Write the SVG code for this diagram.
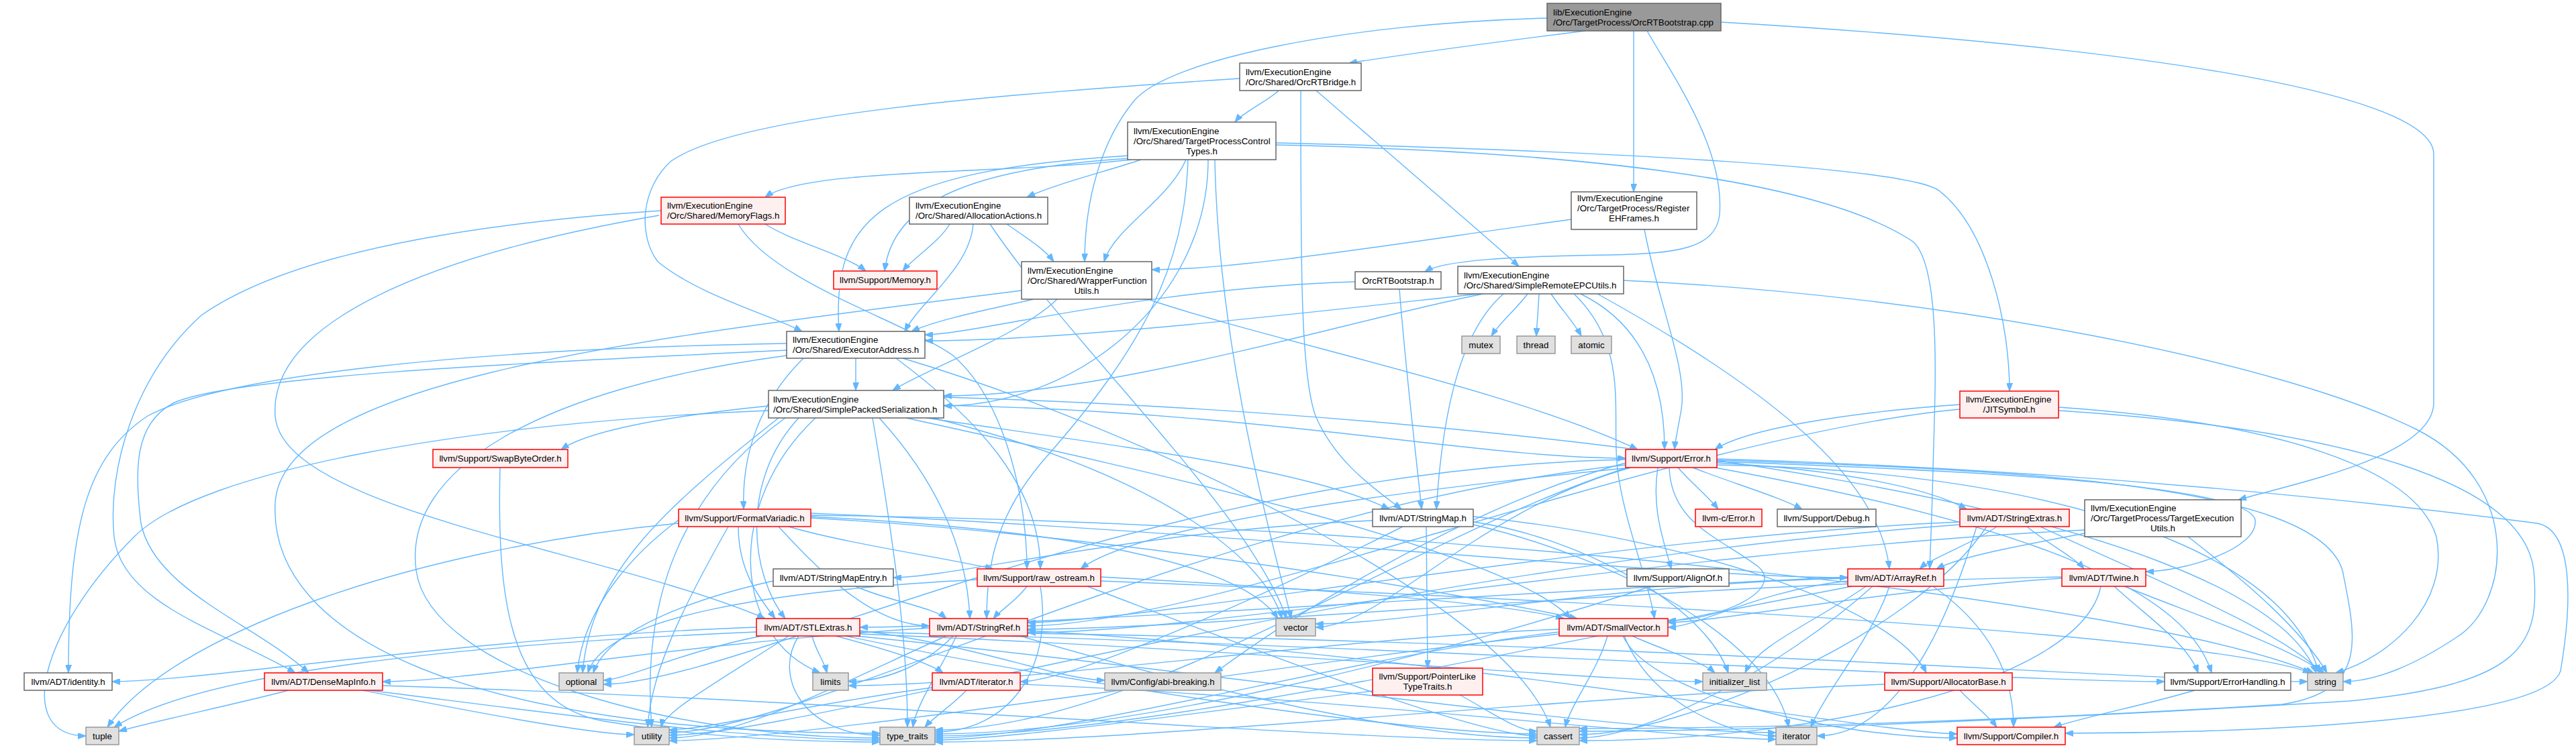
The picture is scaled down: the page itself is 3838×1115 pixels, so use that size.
<svg xmlns="http://www.w3.org/2000/svg" width="3838" height="1115" viewBox="0 0 3838 1115">
<style>
.bg{fill:#FFFFFF}
.edges path{fill:none;stroke:#63B8FF;stroke-width:1.4;marker-end:url(#arr)}
.node rect{stroke-width:1.5}
.red rect{fill:#FFF0F0;stroke:#FF0000}
.wht rect{fill:#FFFFFF;stroke:#666666}
.sys rect{fill:#E0E0E0;stroke:#999999}
.root rect{fill:#999999;stroke:#666666}
text{font-family:"Liberation Sans",Arial,Helvetica,sans-serif;font-size:13.33px;fill:#000000}
.c{text-anchor:middle}
</style>
<defs>
<marker id="arr" viewBox="0 0 12 9" refX="12" refY="4.5" markerWidth="12" markerHeight="9" markerUnits="userSpaceOnUse" orient="auto">
<path d="M0,0L12,4.5L0,9z" fill="#63B8FF" stroke="#63B8FF" stroke-width="1"/>
</marker>
</defs>
<rect class="bg" x="0" y="0" width="3838" height="1115"/>
<g id="edges" class="edges">
<path d="M2362,46C2250,60 2100,80 2010,94"/>
<path d="M2305,27C2000,35 1740,90 1690,150C1640,210 1616,300 1616,390"/>
<path d="M2434,46C2434,150 2434,200 2434,286"/>
<path d="M2454,46C2490,110 2570,220 2562,320C2556,370 2500,378 2400,380C2250,382 2150,388 2123,405"/>
<path d="M2564,33C3200,70 3626,140 3626,230L3626,600C3626,680 3420,720 3335,745"/>
<path d="M1847,117C1500,140 1100,170 1000,240C955,280 950,350 980,390C1040,440 1150,470 1195,494"/>
<path d="M1905,135C1890,150 1852,167 1840,182"/>
<path d="M1938,135C1938,400 1938,560 1960,620C1990,690 2050,730 2088,759"/>
<path d="M1961,135C2030,195 2200,340 2263,397"/>
<path d="M1700,238C1650,255 1570,275 1530,294"/>
<path d="M1685,238C1500,260 1200,250 1140,294"/>
<path d="M1685,236C1450,250 1330,300 1318,404"/>
<path d="M1767,238C1740,300 1660,340 1645,390"/>
<path d="M1682,232C1300,255 1240,330 1250,494"/>
<path d="M1800,238C1800,450 1600,605 1406,605"/>
<path d="M1901,213C2400,225 2850,250 2890,285C2960,340 2994,480 2994,583"/>
<path d="M1901,216C2300,225 2700,260 2850,360C2895,400 2882,600 2880,700C2878,780 2876,820 2875,848"/>
<path d="M1770,238C1765,400 1700,520 1560,680C1480,770 1470,850 1470,922"/>
<path d="M1810,238C1815,500 1880,750 1924,922"/>
<path d="M1140,334C1180,360 1260,380 1290,404"/>
<path d="M985,314C600,340 400,400 300,470C200,560 160,700 170,800C180,900 330,940 440,1003"/>
<path d="M982,321C640,380 400,480 410,620C420,760 900,820 1140,922"/>
<path d="M1100,334C1150,420 1350,480 1420,530C1500,600 1530,750 1530,848"/>
<path d="M1450,334C1445,400 1370,450 1348,494"/>
<path d="M1500,334C1530,355 1555,370 1570,390"/>
<path d="M1415,334C1400,360 1360,385 1345,404"/>
<path d="M1475,334C1600,520 1860,760 1917,922"/>
<path d="M2341,327C2100,360 1850,402 1716,402"/>
<path d="M2450,342C2470,450 2515,550 2505,610C2500,640 2496,655 2495,670"/>
<path d="M2019,420C1700,430 1450,499 1378,499"/>
<path d="M2085,431C2095,560 2110,680 2118,759"/>
<path d="M1540,446C1480,460 1400,475 1358,494"/>
<path d="M1575,446C1520,500 1380,550 1330,582"/>
<path d="M1710,446C1900,510 2250,580 2440,670"/>
<path d="M1522,433C1000,500 420,560 410,750C400,950 700,1093 1311,1093"/>
<path d="M2204,438C2000,460 1600,508 1378,508"/>
<path d="M2210,438C2000,480 1650,590 1406,590"/>
<path d="M2240,438C2180,490 2150,600 2140,759"/>
<path d="M2276,438C2260,460 2235,480 2222,501"/>
<path d="M2293,438C2292,460 2290,480 2289,501"/>
<path d="M2311,438C2325,460 2345,480 2356,501"/>
<path d="M2355,438C2440,480 2480,560 2480,670"/>
<path d="M2345,438C2430,520 2400,620 2410,700C2420,780 2455,860 2465,922"/>
<path d="M2380,438C2600,560 2800,700 2815,848"/>
<path d="M2419,418C2900,440 3400,540 3600,640C3760,720 3740,900 3660,950C3600,990 3540,1016 3491,1016"/>
<path d="M1275,534C1275,550 1275,565 1275,582"/>
<path d="M1197,534C1130,600 1105,680 1108,759"/>
<path d="M1335,534C1450,620 1550,720 1550,848"/>
<path d="M1172,522C800,540 350,560 260,600C200,630 200,700 210,780C230,880 380,930 460,1003"/>
<path d="M1172,512C700,520 330,560 220,620C130,680 102,780 102,1003"/>
<path d="M1345,534C1700,640 2250,900 2310,1084"/>
<path d="M1172,530C800,580 600,700 620,850C640,1000 1000,1100 1311,1100"/>
<path d="M1406,604C1900,615 2200,683 2422,683"/>
<path d="M1145,605C1000,620 880,640 836,670"/>
<path d="M1190,623C1100,720 1120,860 1170,922"/>
<path d="M1350,623C1700,700 2250,820 2340,922"/>
<path d="M1380,623C1700,670 1950,700 2070,759"/>
<path d="M1310,623C1380,700 1440,800 1445,922"/>
<path d="M1215,623C1080,750 1090,950 1222,1003"/>
<path d="M1160,623C1000,750 880,850 868,1003"/>
<path d="M1406,592C2300,620 3350,750 3451,1003"/>
<path d="M1145,612C700,630 300,700 200,800C60,940 20,1097 128,1097"/>
<path d="M1300,623C1330,800 1352,950 1352,1084"/>
<path d="M1170,623C980,760 960,950 971,1084"/>
<path d="M1390,623C1700,700 1880,820 1910,922"/>
<path d="M2920,603C2750,615 2600,640 2555,670"/>
<path d="M2920,610C2500,650 1800,933 1531,933"/>
<path d="M3067,607C3400,630 3600,700 3630,800C3650,900 3560,980 3480,1003"/>
<path d="M3067,612C3500,640 3760,720 3775,850C3785,960 3760,1020 3500,1045C3000,1075 2600,1090 2353,1090"/>
<path d="M2500,697C2520,720 2545,740 2560,759"/>
<path d="M2522,697C2580,720 2650,740 2685,759"/>
<path d="M2558,690C2750,700 2880,730 2930,759"/>
<path d="M2558,688C2900,700 3350,720 3360,775C3365,820 3250,852 3197,852"/>
<path d="M2422,690C2200,750 1950,900 1810,1003"/>
<path d="M2470,697C2460,760 2480,810 2490,848"/>
<path d="M2558,684C3100,700 3550,750 3780,780C3835,790 3832,900 3815,1000C3790,1080 3300,1093 3077,1093"/>
<path d="M2555,697C2900,760 3250,850 3295,1003"/>
<path d="M2430,697C2100,730 1700,780 1610,848"/>
<path d="M2558,686C3000,700 3450,720 3490,850C3510,950 3530,1030 3400,1050C3000,1075 2600,1086 2353,1086"/>
<path d="M2422,685C1700,700 1100,1020 899,1020"/>
<path d="M2558,693C3000,700 3400,800 3455,1003"/>
<path d="M2425,697C2100,800 1700,1088 1393,1088"/>
<path d="M2422,693C1800,760 1200,1092 997,1092"/>
<path d="M2430,697C2200,760 2060,935 1960,935"/>
<path d="M2487,697C2490,780 2560,800 2620,845C2660,880 2560,925 2485,925"/>
<path d="M2045,776C1700,790 1420,861 1331,861"/>
<path d="M2090,785C1900,880 1600,1016 1520,1016"/>
<path d="M2195,770C2500,800 2820,900 2870,1003"/>
<path d="M2125,785C2126,880 2127,940 2127,996"/>
<path d="M2195,778C2350,800 2540,900 2575,1003"/>
<path d="M2195,782C2400,830 2640,950 2665,1084"/>
<path d="M2975,785C2940,810 2880,830 2860,848"/>
<path d="M2920,778C2400,800 1700,928 1531,928"/>
<path d="M3020,785C3050,810 3090,830 3105,848"/>
<path d="M2960,785C2850,950 2500,1095 2353,1095"/>
<path d="M2945,785C2880,1000 2800,1097 2707,1097"/>
<path d="M3040,785C3200,860 3400,940 3459,1003"/>
<path d="M2920,782C2000,850 1200,1096 997,1096"/>
<path d="M1275,874C1320,895 1390,905 1410,922"/>
<path d="M1152,866C1000,900 900,950 884,1003"/>
<path d="M1640,860C2000,880 2250,900 2330,922"/>
<path d="M1530,874C1515,895 1490,910 1480,922"/>
<path d="M1620,874C1900,980 2200,1097 2290,1097"/>
<path d="M1456,864C1150,880 900,920 876,1003"/>
<path d="M1640,866C2500,900 3300,950 3443,1003"/>
<path d="M1550,874C1570,1000 1500,1091 1393,1091"/>
<path d="M2460,874C2200,960 1700,1094 1393,1094"/>
<path d="M2753,866C2620,880 2530,935 2485,935"/>
<path d="M2753,860C2300,880 1500,935 1281,935"/>
<path d="M2880,874C2960,930 3000,1000 3000,1084"/>
<path d="M2790,874C2650,1000 2450,1100 2353,1100"/>
<path d="M2780,874C2700,930 2620,960 2600,1003"/>
<path d="M2815,874C2790,950 2720,1030 2698,1084"/>
<path d="M2760,874C2300,960 1700,1097 1393,1097"/>
<path d="M2753,862C2400,870 2100,930 1960,930"/>
<path d="M3072,862C2800,880 2550,928 2485,928"/>
<path d="M3072,860C2500,870 1800,938 1531,938"/>
<path d="M3150,874C3200,920 3260,960 3275,1003"/>
<path d="M3130,874C3100,1020 2700,1104 2353,1104"/>
<path d="M3165,874C3280,920 3400,960 3463,1003"/>
<path d="M1127,935C700,950 300,1016 167,1016"/>
<path d="M1245,948C1310,965 1380,985 1405,1003"/>
<path d="M1281,940C1450,960 1580,1014 1646,1014"/>
<path d="M1281,942C2000,960 3000,1016 3225,1016"/>
<path d="M1260,948C1600,1020 2100,1094 2290,1094"/>
<path d="M1281,945C1900,970 2400,1016 2537,1016"/>
<path d="M1275,948C1800,1000 2400,1092 2646,1092"/>
<path d="M1210,948C1215,970 1228,985 1232,1003"/>
<path d="M1135,948C1020,970 930,1014 899,1014"/>
<path d="M1127,942C700,960 300,1000 170,1084"/>
<path d="M1190,948C1150,1010 1200,1096 1311,1096"/>
<path d="M1175,948C1080,1010 990,1060 985,1084"/>
<path d="M1385,936C1000,960 700,1016 570,1016"/>
<path d="M1531,940C2200,980 2800,1094 2916,1094"/>
<path d="M1520,948C1800,1030 2100,1100 2290,1100"/>
<path d="M1420,948C1380,990 1320,1016 1264,1016"/>
<path d="M1531,944C2500,960 3200,1016 3438,1016"/>
<path d="M1425,948C1400,1000 1365,1050 1360,1084"/>
<path d="M1410,948C1250,1020 1100,1100 997,1100"/>
<path d="M2418,948C2460,1040 2750,1100 2916,1100"/>
<path d="M2395,948C2380,1000 2340,1050 2332,1084"/>
<path d="M2432,948C2480,970 2535,985 2555,1003"/>
<path d="M2420,948C2460,1050 2580,1097 2646,1097"/>
<path d="M2323,938C2000,950 1500,1022 1264,1022"/>
<path d="M2323,942C2000,980 1600,1100 1393,1100"/>
<path d="M2323,945C1900,990 1200,1104 997,1104"/>
<path d="M570,1022C1200,1040 2000,1104 2290,1104"/>
<path d="M430,1029C350,1050 230,1075 177,1090"/>
<path d="M550,1029C800,1060 1100,1103 1311,1103"/>
<path d="M540,1029C700,1060 880,1095 945,1095"/>
<path d="M1520,1020C2000,1040 2500,1102 2646,1102"/>
<path d="M1440,1029C1420,1050 1390,1070 1378,1084"/>
<path d="M1389,1025C1200,1050 1050,1088 997,1088"/>
<path d="M2175,1036C2220,1060 2260,1090 2290,1090"/>
<path d="M2045,1030C1800,1060 1500,1103 1393,1103"/>
<path d="M2920,1029C2940,1050 2965,1070 2975,1084"/>
<path d="M2808,1020C2300,1040 1700,1106 1393,1106"/>
<path d="M3270,1029C3200,1050 3100,1070 3060,1084"/>
<path d="M745,697C740,900 760,1050 900,1075C1050,1100 1200,1106 1311,1106"/>
<path d="M1208,765C1800,790 2500,861 2753,861"/>
<path d="M1100,785C1100,850 1130,890 1155,922"/>
<path d="M1208,772C1700,800 2200,890 2350,922"/>
<path d="M1160,785C1220,850 1300,933 1385,933"/>
<path d="M1175,785C1260,810 1400,830 1480,848"/>
<path d="M1011,775C950,820 870,900 860,1003"/>
<path d="M1208,768C2200,780 3200,900 3447,1003"/>
<path d="M1011,780C600,820 250,950 160,1084"/>
<path d="M1085,785C1020,900 970,1000 965,1084"/>
<path d="M1208,770C1600,790 1850,840 1904,922"/>
<path d="M3106,795C3000,815 2920,830 2885,848"/>
<path d="M3106,790C2500,820 1800,943 1531,943"/>
<path d="M3260,800C3350,870 3430,940 3467,1003"/>
</g>
<g id="n_root" class="node root"><rect x="2305" y="5" width="259" height="41"/><text x="2314" y="22.7">lib/ExecutionEngine</text><text x="2314" y="37.7">/Orc/TargetProcess/OrcRTBootstrap.cpp</text></g>
<g id="n_orcrtbridge" class="node wht"><rect x="1847" y="94" width="181" height="41"/><text x="1856" y="111.7">llvm/ExecutionEngine</text><text x="1856" y="126.7">/Orc/Shared/OrcRTBridge.h</text></g>
<g id="n_tpctypes" class="node wht"><rect x="1680" y="182" width="221" height="56"/><text x="1689" y="199.7">llvm/ExecutionEngine</text><text x="1689" y="214.7">/Orc/Shared/TargetProcessControl</text><text class="c" x="1790.5" y="229.7">Types.h</text></g>
<g id="n_memoryflags" class="node red"><rect x="985" y="294" width="185" height="40"/><text x="994" y="311.2">llvm/ExecutionEngine</text><text x="994" y="326.2">/Orc/Shared/MemoryFlags.h</text></g>
<g id="n_allocactions" class="node wht"><rect x="1355" y="294" width="206" height="40"/><text x="1364" y="311.2">llvm/ExecutionEngine</text><text x="1364" y="326.2">/Orc/Shared/AllocationActions.h</text></g>
<g id="n_registerehframes" class="node wht"><rect x="2341" y="286" width="187" height="56"/><text x="2350" y="299.7">llvm/ExecutionEngine</text><text x="2350" y="314.7">/Orc/TargetProcess/Register</text><text class="c" x="2434.5" y="329.7">EHFrames.h</text></g>
<g id="n_jitsymbol" class="node red"><rect x="2920" y="583" width="147" height="40"/><text x="2929" y="600.2">llvm/ExecutionEngine</text><text class="c" x="2993.5" y="615.2">/JITSymbol.h</text></g>
<g id="n_targetexecutils" class="node wht"><rect x="3106" y="745" width="233" height="55"/><text x="3115" y="762.2">llvm/ExecutionEngine</text><text x="3115" y="777.2">/Orc/TargetProcess/TargetExecution</text><text class="c" x="3222.5" y="792.2">Utils.h</text></g>
<g id="n_memory" class="node red"><rect x="1242" y="404" width="154" height="27"/><text class="c" x="1319" y="422.2">llvm/Support/Memory.h</text></g>
<g id="n_wrapperfunc" class="node wht"><rect x="1522" y="390" width="194" height="56"/><text x="1531" y="407.7">llvm/ExecutionEngine</text><text x="1531" y="422.7">/Orc/Shared/WrapperFunction</text><text class="c" x="1619" y="437.7">Utils.h</text></g>
<g id="n_orcrtbootstrap_h" class="node wht"><rect x="2019" y="405" width="128" height="26"/><text class="c" x="2083" y="422.7">OrcRTBootstrap.h</text></g>
<g id="n_simpleremote" class="node wht"><rect x="2172" y="397" width="247" height="41"/><text x="2181" y="414.7">llvm/ExecutionEngine</text><text x="2181" y="429.7">/Orc/Shared/SimpleRemoteEPCUtils.h</text></g>
<g id="n_mutex" class="node sys"><rect x="2178" y="501" width="57" height="26"/><text class="c" x="2206.5" y="518.7">mutex</text></g>
<g id="n_thread" class="node sys"><rect x="2260" y="501" width="57" height="26"/><text class="c" x="2288.5" y="518.7">thread</text></g>
<g id="n_atomic" class="node sys"><rect x="2341" y="501" width="60" height="26"/><text class="c" x="2371" y="518.7">atomic</text></g>
<g id="n_executoraddr" class="node wht"><rect x="1172" y="494" width="206" height="40"/><text x="1181" y="511.2">llvm/ExecutionEngine</text><text x="1181" y="526.2">/Orc/Shared/ExecutorAddress.h</text></g>
<g id="n_sps" class="node wht"><rect x="1145" y="582" width="261" height="41"/><text x="1152" y="599.7">llvm/ExecutionEngine</text><text x="1152" y="614.7">/Orc/Shared/SimplePackedSerialization.h</text></g>
<g id="n_error" class="node red"><rect x="2422" y="670" width="136" height="27"/><text class="c" x="2490" y="688.2">llvm/Support/Error.h</text></g>
<g id="n_swapbyteorder" class="node red"><rect x="645" y="670" width="201" height="27"/><text class="c" x="745.5" y="688.2">llvm/Support/SwapByteOrder.h</text></g>
<g id="n_formatvariadic" class="node red"><rect x="1011" y="759" width="197" height="26"/><text class="c" x="1109.5" y="776.7">llvm/Support/FormatVariadic.h</text></g>
<g id="n_stringmap" class="node wht"><rect x="2045" y="759" width="150" height="26"/><text class="c" x="2120" y="776.7">llvm/ADT/StringMap.h</text></g>
<g id="n_cerror" class="node red"><rect x="2526" y="759" width="99" height="26"/><text class="c" x="2575.5" y="776.7">llvm-c/Error.h</text></g>
<g id="n_debug" class="node wht"><rect x="2648" y="759" width="147" height="26"/><text class="c" x="2721.5" y="776.7">llvm/Support/Debug.h</text></g>
<g id="n_stringextras" class="node red"><rect x="2920" y="759" width="163" height="26"/><text class="c" x="3001.5" y="776.7">llvm/ADT/StringExtras.h</text></g>
<g id="n_stringmapentry" class="node wht"><rect x="1152" y="848" width="179" height="26"/><text class="c" x="1241.5" y="865.7">llvm/ADT/StringMapEntry.h</text></g>
<g id="n_raw_ostream" class="node red"><rect x="1456" y="848" width="184" height="26"/><text class="c" x="1548" y="865.7">llvm/Support/raw_ostream.h</text></g>
<g id="n_alignof" class="node wht"><rect x="2424" y="848" width="152" height="26"/><text class="c" x="2500" y="865.7">llvm/Support/AlignOf.h</text></g>
<g id="n_arrayref" class="node red"><rect x="2753" y="848" width="143" height="26"/><text class="c" x="2824.5" y="865.7">llvm/ADT/ArrayRef.h</text></g>
<g id="n_twine" class="node red"><rect x="3072" y="848" width="125" height="26"/><text class="c" x="3134.5" y="865.7">llvm/ADT/Twine.h</text></g>
<g id="n_stlextras" class="node red"><rect x="1127" y="922" width="154" height="26"/><text class="c" x="1204" y="939.7">llvm/ADT/STLExtras.h</text></g>
<g id="n_stringref" class="node red"><rect x="1385" y="922" width="146" height="26"/><text class="c" x="1458" y="939.7">llvm/ADT/StringRef.h</text></g>
<g id="n_vector" class="node sys"><rect x="1901" y="922" width="59" height="26"/><text class="c" x="1930.5" y="939.7">vector</text></g>
<g id="n_smallvector" class="node red"><rect x="2323" y="922" width="162" height="26"/><text class="c" x="2404" y="939.7">llvm/ADT/SmallVector.h</text></g>
<g id="n_identity" class="node wht"><rect x="36" y="1003" width="131" height="26"/><text class="c" x="101.5" y="1020.7">llvm/ADT/identity.h</text></g>
<g id="n_densemapinfo" class="node red"><rect x="394" y="1003" width="176" height="26"/><text class="c" x="482" y="1020.7">llvm/ADT/DenseMapInfo.h</text></g>
<g id="n_optional" class="node sys"><rect x="833" y="1003" width="66" height="26"/><text class="c" x="866" y="1020.7">optional</text></g>
<g id="n_limits" class="node sys"><rect x="1211" y="1003" width="53" height="26"/><text class="c" x="1237.5" y="1020.7">limits</text></g>
<g id="n_iterator_h" class="node red"><rect x="1389" y="1003" width="131" height="26"/><text class="c" x="1454.5" y="1020.7">llvm/ADT/iterator.h</text></g>
<g id="n_abibreaking" class="node sys"><rect x="1646" y="1003" width="173" height="26"/><text class="c" x="1732.5" y="1020.7">llvm/Config/abi-breaking.h</text></g>
<g id="n_pointerlike" class="node red"><rect x="2045" y="996" width="164" height="40"/><text x="2054.5" y="1013.2">llvm/Support/PointerLike</text><text class="c" x="2127" y="1028.2">TypeTraits.h</text></g>
<g id="n_initializer_list" class="node sys"><rect x="2537" y="1003" width="95" height="26"/><text class="c" x="2584.5" y="1020.7">initializer_list</text></g>
<g id="n_allocatorbase" class="node red"><rect x="2808" y="1003" width="190" height="26"/><text class="c" x="2903" y="1020.7">llvm/Support/AllocatorBase.h</text></g>
<g id="n_errorhandling" class="node wht"><rect x="3225" y="1003" width="188" height="26"/><text class="c" x="3319" y="1020.7">llvm/Support/ErrorHandling.h</text></g>
<g id="n_string" class="node sys"><rect x="3438" y="1003" width="53" height="26"/><text class="c" x="3464.5" y="1020.7">string</text></g>
<g id="n_tuple" class="node sys"><rect x="128" y="1084" width="49" height="26"/><text class="c" x="152.5" y="1101.7">tuple</text></g>
<g id="n_utility" class="node sys"><rect x="945" y="1084" width="52" height="26"/><text class="c" x="971" y="1101.7">utility</text></g>
<g id="n_type_traits" class="node sys"><rect x="1311" y="1084" width="82" height="26"/><text class="c" x="1352" y="1101.7">type_traits</text></g>
<g id="n_cassert" class="node sys"><rect x="2290" y="1084" width="63" height="26"/><text class="c" x="2321.5" y="1101.7">cassert</text></g>
<g id="n_iterator" class="node sys"><rect x="2646" y="1084" width="61" height="26"/><text class="c" x="2676.5" y="1101.7">iterator</text></g>
<g id="n_compiler" class="node red"><rect x="2916" y="1084" width="161" height="26"/><text class="c" x="2996.5" y="1101.7">llvm/Support/Compiler.h</text></g>
</svg>
